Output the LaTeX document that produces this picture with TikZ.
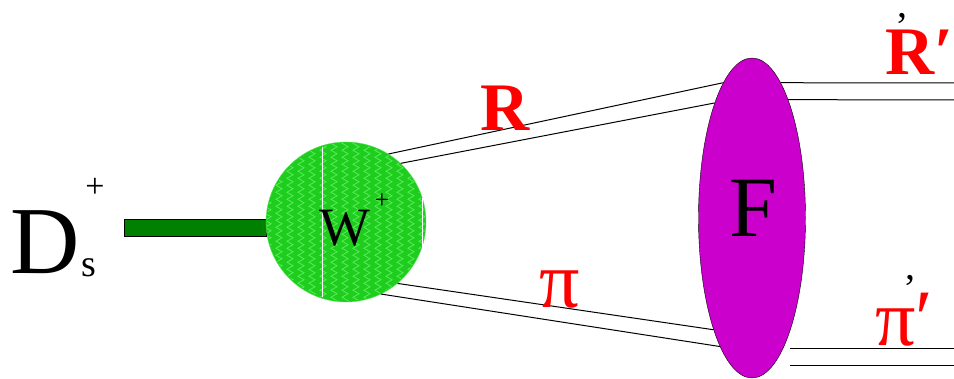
\documentclass[tikz,border=0pt]{standalone}
\usepackage{fontspec}
\setmainfont{Liberation Serif}
\usepackage{tikz}
\usetikzlibrary{shapes.geometric,decorations.pathmorphing}

\definecolor{blobgreen}{RGB}{30,205,30}
\definecolor{ziggreen}{RGB}{90,235,90}
\definecolor{bargreen}{RGB}{0,128,0}
\definecolor{fmagenta}{RGB}{204,0,204}

\begin{document}
\begin{tikzpicture}[x=1pt, y=-1pt,
    txt/.style={inner sep=0pt, font=\fontsize{#1}{#1}\selectfont},
    red lbl/.style={inner sep=0pt, text=red, font=\fontsize{#1}{#1}\selectfont\bfseries},
    red pi/.style={inner sep=0pt, text=red, font=\fontsize{#1}{#1}\selectfont},
    leg/.style={line width=1pt, black},
    zig/.style={ziggreen, line width=0.8pt, decorate, decoration={zigzag, segment length=7, amplitude=3}}
]
\useasboundingbox (0,0) rectangle (954,379);

% incoming meson
\node[txt=96] (d) at (45,242) {D};
\node[txt=34] (dplus) at (95,188) {+};
\node[txt=38] (ds) at (89,268) {s};
\node[draw, fill=bargreen, minimum width=142, minimum height=17, inner sep=0pt] (bar) at (195,227.5) {};

% weak vertex
\node[circle, fill=blobgreen, draw=ziggreen, minimum size=160, inner sep=0pt] (w) at (346,222) {};
\begin{scope}
  \clip (346,222) circle (79);
  \foreach \x in {268,279,...,430}
    \draw[zig] (\x,138) -- (\x,306);
\end{scope}
\draw[white, line width=1pt] (322,147) -- (322,297);
\draw[white, line width=1pt] (422,198) -- (422,247);
\node[txt=54] (wlbl) at (345,228) {W};
\node[txt=26] (wplus) at (382,201) {+};

% final state interaction
\node[ellipse, draw, fill=fmagenta, minimum width=107, minimum height=320, inner sep=0pt] (f) at (752,218) {};
\node[txt=86] (flbl) at (753,208) {F};

% legs
\draw[leg] (w.58) -- (f.102);
\draw[leg] (w.47) -- (f.108);
\draw[leg] (w.-50) -- (f.251);
\draw[leg] (w.-64) -- (f.256);

\coordinate (r1) at (954,83);
\coordinate (r2) at (954,100);
\coordinate (p1) at (790,349);
\coordinate (p2) at (790,366);
\draw[leg] (f.78) -- (r1);
\draw[leg] (f.73) -- (r2);
\draw[leg] (p1) -- ++(164,0);
\draw[leg] (p2) -- ++(164,0);

% labels
\node[red lbl=68] (rlbl) at (505,108) {R};
\node[red pi=80] (pilbl) at (560,290) {π};
\node[red lbl=68, anchor=west] (rprime) at (885,52) {R′};
\node[red pi=80, anchor=west] (piprime) at (875,320) {π′};
\node[txt=40] (c1) at (902,19) {,};
\node[txt=40] (c2) at (910,281) {,};
\end{tikzpicture}
\end{document}
